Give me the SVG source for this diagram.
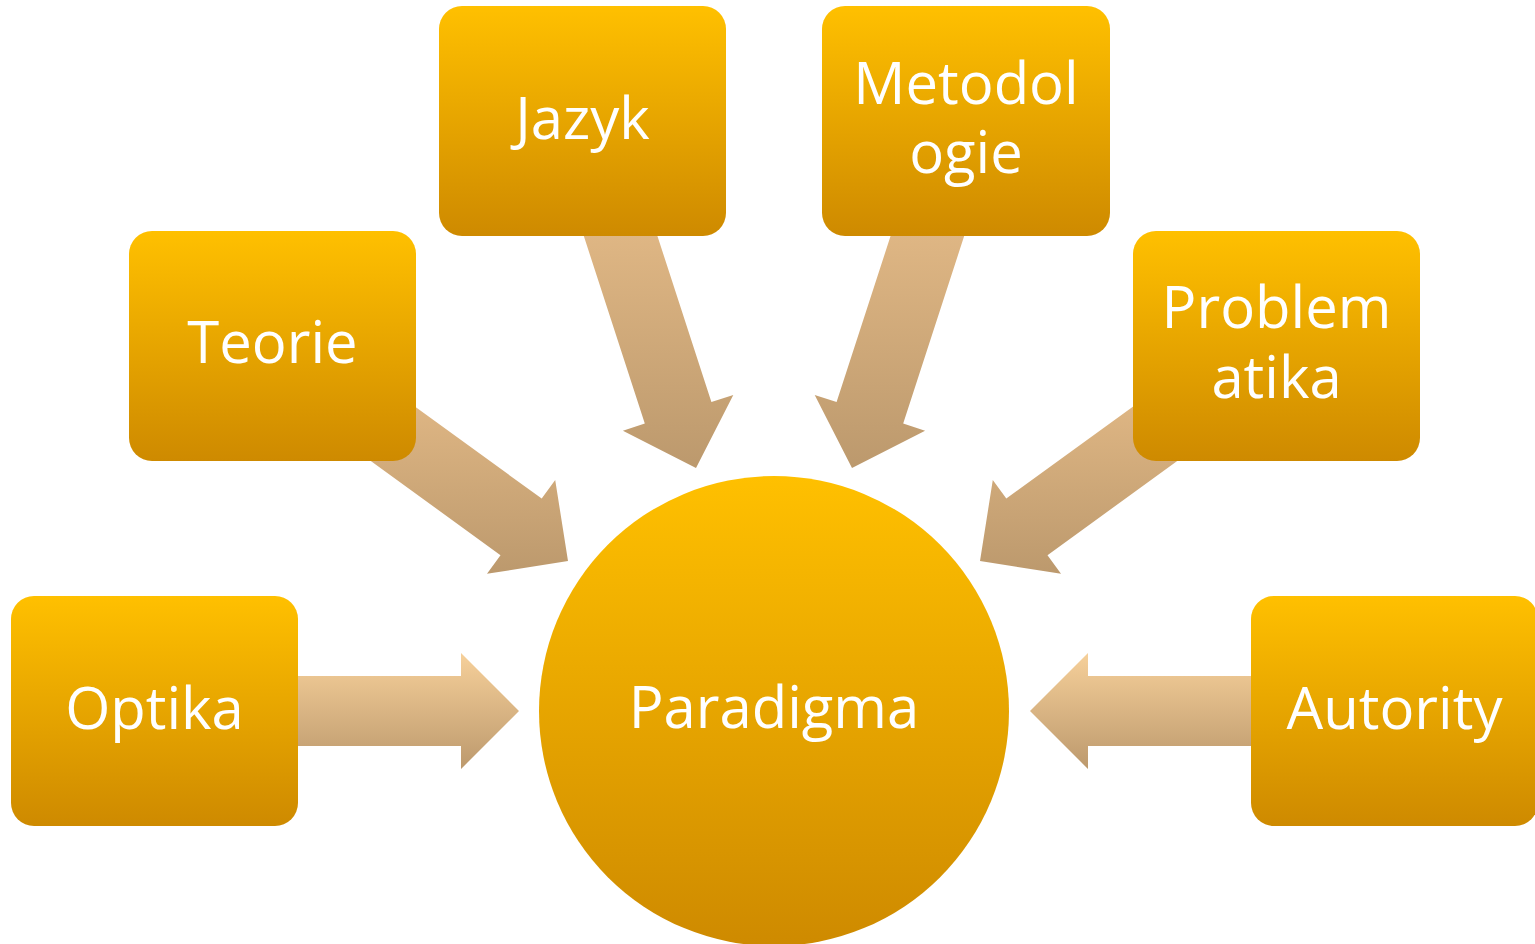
<svg xmlns="http://www.w3.org/2000/svg" width="1535" height="944" viewBox="0 0 1535 944">
  <defs>
    <linearGradient id="gOrange" x1="0" y1="0" x2="0" y2="1">
      <stop offset="0" stop-color="#FFC000"/>
      <stop offset="1" stop-color="#CE8A00"/>
    </linearGradient>
    <linearGradient id="gArrow" x1="0" y1="0" x2="0" y2="1">
      <stop offset="0" stop-color="#F6D09A"/>
      <stop offset="1" stop-color="#BC996D"/>
    </linearGradient>
    <linearGradient id="gArrowD" x1="0" y1="0" x2="0" y2="1">
      <stop offset="0" stop-color="#E8BE8A"/>
      <stop offset="1" stop-color="#BC996D"/>
    </linearGradient>
    <style>
      .box { fill: url(#gOrange); }
      .arr { fill: url(#gArrowD); }
      .arrh { fill: url(#gArrow); }
      .lbl { font-family: "Open Sans", "Noto Sans", sans-serif; font-size: 58px; fill: #FFFFFF; text-anchor: middle; }
    </style>
  </defs>
  <rect width="1535" height="944" fill="#FFFFFF"/>

  <g id="connectors">
    <polygon class="arrh" points="519,711 461,653 461,676 250,676 250,746 461,746 461,769"/>
    <polygon class="arrh" points="1030,711 1088,653 1088,676 1300,676 1300,746 1088,746 1088,769"/>
    <polygon class="arr" points="568,561 555.2,480 541.7,498.6 345.9,356.4 304.7,413 500.5,555.2 487,573.8"/>
    <polygon class="arr" points="980,561 992.8,480 1006.3,498.6 1202.1,356.4 1243.3,413 1047.5,555.2 1061,573.8"/>
    <polygon class="arr" points="696,468 733.3,394.9 711.4,402 636.6,171.9 570,193.5 644.8,423.6 622.9,430.7"/>
    <polygon class="arr" points="852,468 814.7,394.9 836.6,402 911.4,171.9 978,193.5 903.2,423.6 925.1,430.7"/>
  </g>

  <g id="node-paradigma">
    <circle class="box" cx="774" cy="711" r="235"/>
    <text class="lbl" x="774" y="728">Paradigma</text>
  </g>
  <g id="node-optika">
    <rect class="box" x="11" y="596" width="287" height="230" rx="23"/>
    <text class="lbl" x="154.5" y="729">Optika</text>
  </g>
  <g id="node-teorie">
    <rect class="box" x="129" y="231" width="287" height="230" rx="23"/>
    <text class="lbl" x="272.5" y="363">Teorie</text>
  </g>
  <g id="node-jazyk">
    <rect class="box" x="439" y="6" width="287" height="230" rx="23"/>
    <text class="lbl" x="582.5" y="139">Jazyk</text>
  </g>
  <g id="node-metodologie">
    <rect class="box" x="822" y="6" width="288" height="230" rx="23"/>
    <text class="lbl" x="966" y="104">Metodol<tspan x="966" dy="69">ogie</tspan></text>
  </g>
  <g id="node-problematika">
    <rect class="box" x="1133" y="231" width="287" height="230" rx="23"/>
    <text class="lbl" x="1276.5" y="328">Problem<tspan x="1276.5" dy="70">atika</tspan></text>
  </g>
  <g id="node-autority">
    <rect class="box" x="1251" y="596" width="287" height="230" rx="23"/>
    <text class="lbl" x="1394.5" y="729">Autority</text>
  </g>
</svg>
